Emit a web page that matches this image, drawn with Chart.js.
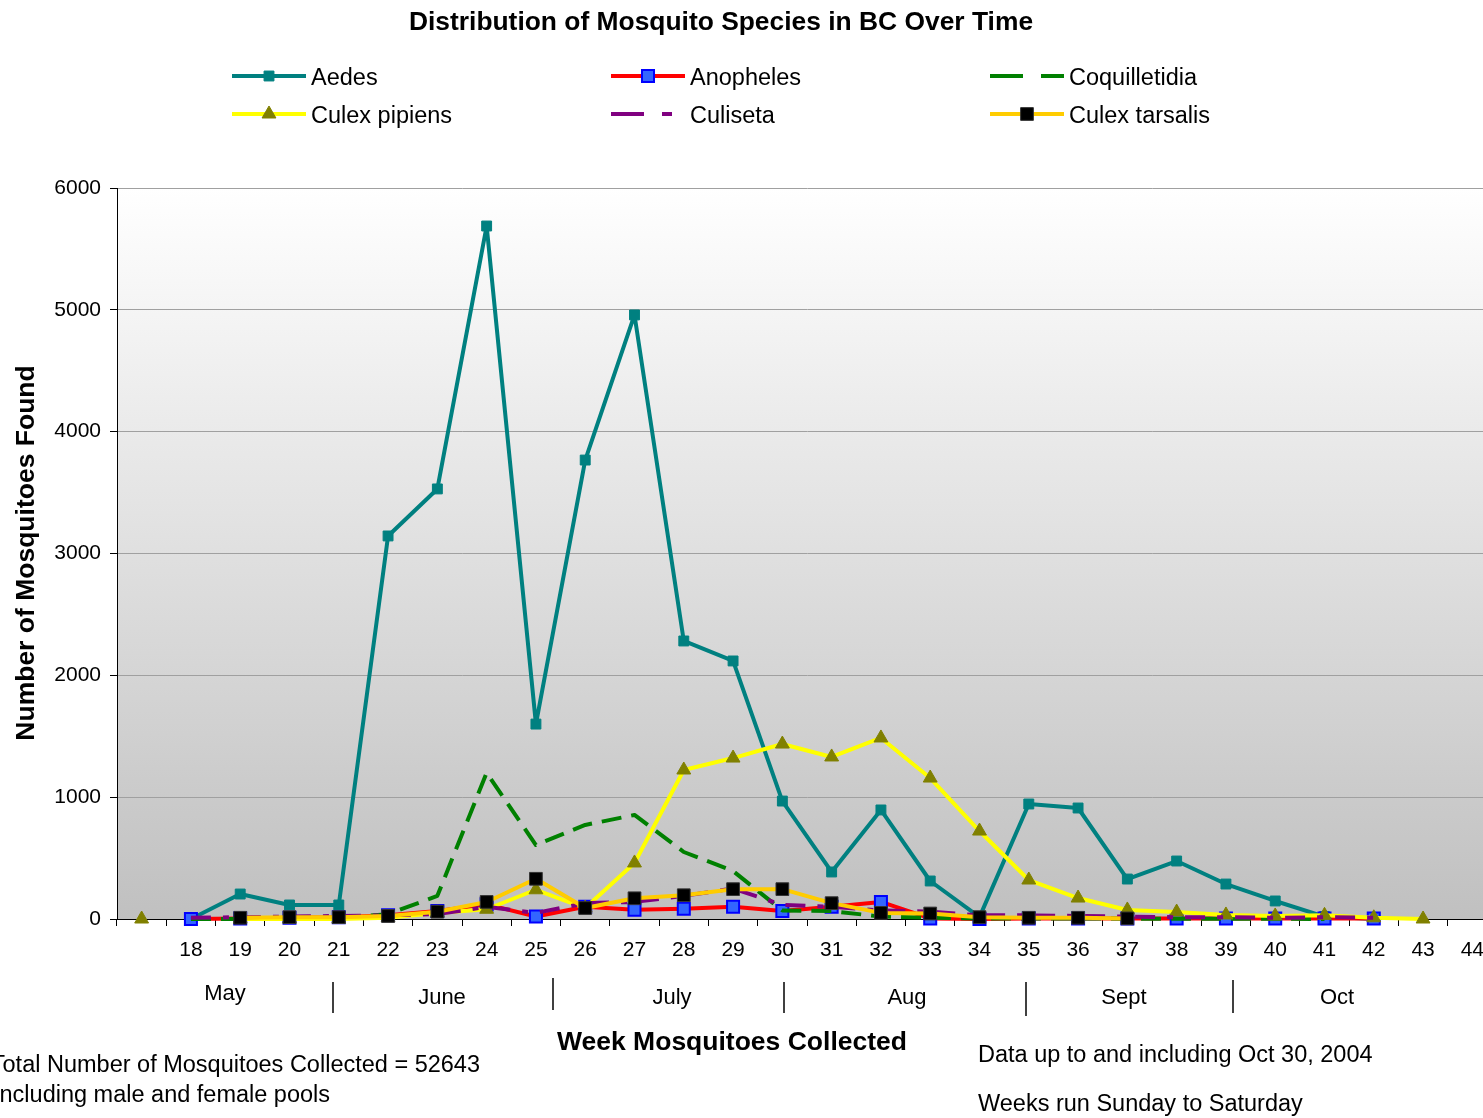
<!DOCTYPE html>
<html>
<head>
<meta charset="utf-8">
<script src="https://cdn.jsdelivr.net/npm/chart.js@4.4.0/dist/chart.umd.min.js"></script>
<style>
  html, body { margin: 0; padding: 0; background: #fff; overflow: hidden; }
  #wrap { width: 1483px; height: 1118px; overflow: hidden; position: relative; }
  canvas { display: block; }
</style>
</head>
<body>
<div id="wrap"><canvas id="chart" width="1520" height="1118"></canvas></div>
<script>
const FONT = '"Liberation Sans", Arial, sans-serif';

// week numbers (first category has no label)
const weeks = ['', '18', '19', '20', '21', '22', '23', '24', '25', '26', '27', '28', '29', '30',
  '31', '32', '33', '34', '35', '36', '37', '38', '39', '40', '41', '42', '43', '44'];

const aedes = [null, 0, 205, 115, 115, 3144, 3530, 5688, 1600, 3767, 4958, 2282, 2118, 968,
  386, 895, 312, 15, 944, 911, 328, 476, 287, 148, 20, 0, null, null];
const anopheles = [null, 0, 5, 10, 15, 30, 65, 120, 20, 100, 75, 85, 100, 65,
  100, 140, 5, 0, 5, 5, 5, 5, 5, 5, 5, 5, null, null];
const coquilletidia = [null, 0, 0, 0, 10, 40, 190, 1200, 607, 772, 854, 550, 394, 70,
  65, 20, 10, 5, 5, 5, 3, 2, 2, 2, 0, null, null, null];
const culexPipiens = [0, null, 0, 0, 0, 10, 50, 80, 240, 90, 460, 1223, 1321, 1436,
  1330, 1486, 1157, 722, 320, 172, 74, 57, 33, 25, 30, 10, 0, null];
const culiseta = [null, 10, 15, 20, 25, 30, 40, 100, 50, 130, 140, 190, 250, 115,
  100, 70, 60, 30, 30, 25, 20, 15, 15, 10, 15, 10, null, null];
const culexTarsalis = [null, null, 10, 15, 15, 25, 60, 140, 330, 90, 170, 195, 245, 245,
  130, 50, 45, 15, 10, 10, 5, null, null, null, null, null, null, null];

const yTicks = [0, 1000, 2000, 3000, 4000, 5000, 6000];

const months = [
  { text: 'May', x: 225, y: 994 },
  { text: 'June', x: 442, y: 998 },
  { text: 'July', x: 672, y: 998 },
  { text: 'Aug', x: 907, y: 998 },
  { text: 'Sept', x: 1124, y: 998 },
  { text: 'Oct', x: 1337, y: 998 }
];
const monthDividers = [[333, 982, 1013], [553, 978, 1010], [784, 982, 1013], [1026, 982, 1016], [1233, 980, 1013]];

function series(label, data, color, extra) {
  return Object.assign({
    label: label,
    data: data,
    borderColor: color,
    backgroundColor: color,
    borderWidth: 4,
    borderJoinStyle: 'round',
    tension: 0,
    clip: false,
    spanGaps: false,
    pointRadius: 0,
    pointHoverRadius: 0
  }, extra);
}

const datasets = [
  series('Aedes', aedes, '#008080', { order: 6, pointStyle: 'rect', pointRadius: 7,
    pointBackgroundColor: '#008080', pointBorderColor: '#008080', pointBorderWidth: 1 }),
  series('Anopheles', anopheles, '#ff0000', { order: 5, pointStyle: 'rect', pointRadius: 8.5,
    pointBackgroundColor: '#3366ff', pointBorderColor: '#0000ff', pointBorderWidth: 2 }),
  series('Coquilletidia', coquilletidia, '#008000', { order: 4, borderDash: [20, 10] }),
  series('Culex pipiens', culexPipiens, '#ffff00', { order: 3, pointStyle: 'triangle', pointRadius: 8,
    pointBackgroundColor: '#808000', pointBorderColor: '#808000', pointBorderWidth: 1 }),
  series('Culiseta', culiseta, '#800080', { order: 2, borderDash: [20, 12, 6, 12] }),
  series('Culex tarsalis', culexTarsalis, '#ffcc00', { order: 1, pointStyle: 'rect', pointRadius: 9,
    pointBackgroundColor: '#000000', pointBorderColor: '#333333', pointBorderWidth: 1 })
];

const legendCols = [232, 611, 990];
const legendRows = [76, 114];

function text(ctx, str, x, y, font, align) {
  ctx.font = font;
  ctx.textAlign = align || 'left';
  ctx.textBaseline = 'middle';
  ctx.fillStyle = '#000';
  ctx.fillText(str, x, y);
}

const decor = {
  id: 'decor',
  beforeDraw(chart) {
    const { ctx, chartArea: a } = chart;
    const g = ctx.createLinearGradient(0, a.top, 0, a.bottom);
    g.addColorStop(0, '#ffffff');
    g.addColorStop(1, '#c0c0c0');
    ctx.save();
    ctx.fillStyle = g;
    ctx.fillRect(a.left, a.top, a.right - a.left, a.bottom - a.top);
    ctx.restore();
  },
  afterDraw(chart) {
    const ctx = chart.ctx;
    ctx.save();

    // title
    text(ctx, 'Distribution of Mosquito Species in BC Over Time', 721, 23, 'bold 26.4px ' + FONT, 'center');

    // legend
    chart.data.datasets.forEach((ds, i) => {
      const x0 = legendCols[i % 3];
      const y = legendRows[Math.floor(i / 3)];
      ctx.save();
      ctx.strokeStyle = ds.borderColor;
      ctx.lineWidth = 4;
      ctx.setLineDash(ds.borderDash ? [33, 18] : []);
      if (ds.label === 'Culiseta') ctx.setLineDash([33, 18, 10, 100]);
      ctx.beginPath();
      ctx.moveTo(x0, y);
      ctx.lineTo(x0 + 74, y);
      ctx.stroke();
      ctx.restore();
      if (ds.pointRadius > 0) {
        ctx.save();
        ctx.fillStyle = ds.pointBackgroundColor;
        ctx.strokeStyle = ds.pointBorderColor;
        ctx.lineWidth = ds.pointBorderWidth;
        Chart.helpers.drawPoint(ctx, { pointStyle: ds.pointStyle, radius: ds.pointRadius,
          borderWidth: ds.pointBorderWidth, rotation: 0 }, x0 + 37, y);
        ctx.restore();
      }
      text(ctx, ds.label, x0 + 79, y + 3, '23.5px ' + FONT);
    });

    // y axis title
    ctx.save();
    ctx.translate(27, 553);
    ctx.rotate(-Math.PI / 2);
    text(ctx, 'Number of Mosquitoes Found', 0, 0, 'bold 26.5px ' + FONT, 'center');
    ctx.restore();

    // months
    months.forEach(m => text(ctx, m.text, m.x, m.y, '22px ' + FONT, 'center'));
    ctx.strokeStyle = '#000';
    ctx.lineWidth = 1.5;
    monthDividers.forEach(d => {
      ctx.beginPath();
      ctx.moveTo(d[0], d[1]);
      ctx.lineTo(d[0], d[2]);
      ctx.stroke();
    });

    // x axis title and notes
    text(ctx, 'Week Mosquitoes Collected', 732, 1043, 'bold 26.5px ' + FONT, 'center');
    text(ctx, 'Total Number of Mosquitoes Collected = 52643', 480, 1066, '23.5px ' + FONT, 'right');
    text(ctx, 'Including male and female pools', -7, 1096, '23.5px ' + FONT);
    text(ctx, 'Data up to and including Oct 30, 2004', 978, 1056, '23.5px ' + FONT);
    text(ctx, 'Weeks run Sunday to Saturday', 978, 1105, '23.5px ' + FONT);

    ctx.restore();
  }
};

new Chart(document.getElementById('chart').getContext('2d'), {
  type: 'line',
  data: { labels: weeks, datasets: datasets },
  plugins: [decor],
  options: {
    responsive: false,
    animation: false,
    devicePixelRatio: 1,
    layout: { padding: { top: 188, right: 23, left: 0, bottom: 0 } },
    plugins: { legend: { display: false }, tooltip: { enabled: false }, title: { display: false } },
    scales: {
      x: {
        type: 'category',
        offset: true,
        afterFit: s => { s.height = 199; },
        grid: { offset: true, drawOnChartArea: false, drawTicks: true, tickLength: 7, color: '#000' },
        border: { display: true, color: '#000', width: 1 },
        ticks: { autoSkip: false, maxRotation: 0, color: '#000', padding: 12, font: { size: 21, family: FONT } }
      },
      y: {
        min: 0,
        max: 6000,
        afterFit: s => { s.width = 117; },
        afterBuildTicks: s => { s.ticks = yTicks.map(v => ({ value: v })); },
        grid: {
          color: c => (c.tick && c.tick.value === 0 ? '#000' : '#a0a0a0'),
          tickColor: '#000',
          tickLength: 7,
          lineWidth: 1
        },
        border: { display: true, color: '#000', width: 1 },
        ticks: { color: '#000', padding: 9, font: { size: 21, family: FONT }, callback: v => String(v) }
      }
    }
  }
});
</script>
</body>
</html>
